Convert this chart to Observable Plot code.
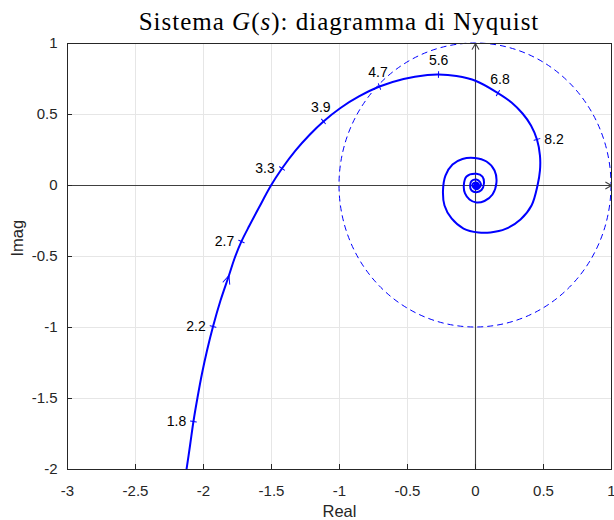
<!DOCTYPE html>
<html><head><meta charset="utf-8">
<script src="https://cdn.jsdelivr.net/npm/d3@7"></script>
<script src="https://cdn.jsdelivr.net/npm/@observablehq/plot@0.6"></script>
<style>
body{margin:0;background:#fff;}
#title{width:614px;box-sizing:border-box;padding:4px 3px 0 67px;height:40px;text-align:center;font-family:"Liberation Serif","Times New Roman",serif;font-size:25px;letter-spacing:1px;line-height:36px;color:#000;white-space:nowrap;}
</style></head><body>
<div id="title">Sistema <i>G</i>(<i>s</i>): diagramma di Nyquist</div>
<div id="chart"></div>
<script>
// Axis ticks
const xTicks = [-3, -2.5, -2, -1.5, -1, -0.5, 0, 0.5, 1];
const xTickLabels = ["-3", "-2.5", "-2", "-1.5", "-1", "-0.5", "0", "0.5", "1"];
const yTicks = [-2, -1.5, -1, -0.5, 0, 0.5, 1];
const yTickLabels = ["-2", "-1.5", "-1", "-0.5", "0", "0.5", "1"];
const xDomain = [-3, 1];
const yDomain = [-2, 1];

// Nyquist curve, in order of increasing frequency
const curveRe = [-2.125, -2.099, -2.074, -2.044, -2.011, -1.974, -1.930, -1.875, -1.813, -1.772, -1.721, -1.662, -1.592, -1.504, -1.423, -1.324, -1.221, -1.118, -0.993, -0.857, -0.706, -0.529, -0.353, -0.272, -0.140, 0.004, 0.165, 0.265, 0.346, 0.408, 0.452, 0.474, 0.474, 0.456, 0.412, 0.331, 0.221, 0.110, 0.022, -0.088, -0.176, -0.228, -0.239, -0.221, -0.169, -0.096, -0.007, 0.081, 0.140, 0.154, 0.125, 0.066, 0.007, -0.044, -0.077, -0.086, -0.066, 0.007, 0.051, 0.062, 0.044, 0.007, -0.029, -0.040, -0.029, 0.007, 0.033, 0.039, 0.010, -0.018, -0.018, 0.007, 0.024, 0.018, 0.000, -0.007, 0.004, 0.011, 0.004];
const curveIm = [-2.0, -1.831, -1.662, -1.493, -1.324, -1.162, -0.993, -0.810, -0.634, -0.514, -0.394, -0.282, -0.155, 0, 0.120, 0.246, 0.356, 0.451, 0.546, 0.627, 0.697, 0.750, 0.778, 0.782, 0.771, 0.736, 0.651, 0.585, 0.507, 0.423, 0.324, 0.211, 0.106, 0, -0.141, -0.239, -0.306, -0.331, -0.331, -0.303, -0.232, -0.141, -0.035, 0.070, 0.148, 0.187, 0.194, 0.169, 0.106, 0.021, -0.063, -0.109, -0.120, -0.099, -0.056, 0, 0.063, 0.082, 0.063, 0.014, -0.032, -0.047, -0.035, 0, 0.032, 0.042, 0.025, 0, -0.026, -0.011, 0.014, 0.021, 0.007, -0.011, -0.011, 0.002, 0.009, 0, -0.004];

// Frequency markers
const freqLabels = ["1.8", "2.2", "2.7", "3.3", "3.9", "4.7", "5.6", "6.8", "8.2"];
const freqRe = [-2.074, -1.930, -1.721, -1.423, -1.118, -0.706, -0.272, 0.165, 0.452];
const freqIm = [-1.662, -0.993, -0.394, 0.120, 0.451, 0.697, 0.782, 0.651, 0.324];

// Direction arrow on the curve
const arrowRe = [-1.813];
const arrowIm = [-0.634];

// Unit circle radius
const circleRadius = [1];

const W = 614, H = 480, mL = 67, mR = 3, mT = 3, mB = 51;
const kx = (W - mL - mR) / (xDomain[1] - xDomain[0]);
const ky = (H - mT - mB) / (yDomain[1] - yDomain[0]);

const curve = curveRe.map((re, i) => ({re, im: curveIm[i]}));

function nearestIndex(re, im) {
  let best = 0, bd = Infinity;
  curve.forEach((p, i) => { const d = (p.re - re) ** 2 + (p.im - im) ** 2; if (d < bd) { bd = d; best = i; } });
  return best;
}
function tangentAngle(re, im) {
  const k = nearestIndex(re, im);
  const a = curve[Math.max(0, k - 1)], b = curve[Math.min(curve.length - 1, k + 1)];
  const sx = (b.re - a.re) * kx, sy = -(b.im - a.im) * ky;
  return Math.atan2(sx, -sy) * 180 / Math.PI; // clockwise from up
}

const marks = freqLabels.map((label, i) => {
  const re = freqRe[i], im = freqIm[i];
  const t = tangentAngle(re, im);
  let phi = t + 90;
  let nx = Math.sin(phi * Math.PI / 180), ny = -Math.cos(phi * Math.PI / 180);
  const ox = re * kx, oy = -im * ky;
  if (nx * ox + ny * oy < 0) { nx = -nx; ny = -ny; phi += 180; }
  // place label on the dominant outward side
  const horiz = Math.abs(nx) > Math.abs(ny);
  const dx = horiz ? Math.sign(nx) * 17 : nx * 4;
  const dy = horiz ? 0 : Math.sign(ny) * 14;
  return {label, re, im, rot: phi, dx, dy};
});

const arrows = arrowRe.map((re, i) => ({re, im: arrowIm[i], rot: tangentAngle(re, arrowIm[i])}));

const tickShape = {draw(ctx, l) { ctx.moveTo(0, 0); ctx.lineTo(0, -l); }};
const vShape = {draw(ctx, l) { ctx.moveTo(-3.5, l); ctx.lineTo(0, 0); ctx.lineTo(3.5, l); }};

const axesLines = [
  {x1: xDomain[0], y1: 0, x2: xDomain[1], y2: 0},
  {x1: 0, y1: yDomain[0], x2: 0, y2: yDomain[1]}
];

function unitCircle(index, scales) {
  const {x, y} = scales;
  const r = circleRadius[0];
  return d3.create("svg:ellipse")
    .attr("cx", x(0)).attr("cy", y(0))
    .attr("rx", x(r) - x(0)).attr("ry", y(0) - y(r))
    .attr("fill", "none").attr("stroke", "#0000ff").attr("stroke-width", 1)
    .attr("stroke-dasharray", "6,4").node();
}

const chart = Plot.plot({
  width: W, height: H,
  marginLeft: mL, marginRight: mR, marginTop: mT, marginBottom: mB,
  x: {domain: xDomain, axis: null},
  y: {domain: yDomain, axis: null},
  style: {fontFamily: "'Liberation Sans', Arial, sans-serif", fontSize: "15px", color: "#262626", background: "white", overflow: "visible"},
  marks: [
    Plot.gridX(xTicks, {stroke: "#e6e6e6", strokeOpacity: 1}),
    Plot.gridY(yTicks, {stroke: "#e6e6e6", strokeOpacity: 1}),
    unitCircle,
    Plot.arrow(axesLines, {x1: "x1", y1: "y1", x2: "x2", y2: "y2", stroke: "#404040", strokeWidth: 1.1, headLength: 9, headAngle: 60}),
    Plot.line(curve, {x: "re", y: "im", curve: "catmull-rom", stroke: "#0000ff", strokeWidth: 2, clip: true}),
    Plot.vector(marks, {x: "re", y: "im", rotate: "rot", length: 6, anchor: "middle", shape: tickShape, stroke: "#0000ff", strokeWidth: 1}),
    Plot.vector(arrows, {x: "re", y: "im", rotate: "rot", length: 8, anchor: "start", shape: vShape, stroke: "#0000ff", strokeWidth: 1}),
    ...marks.map(m => Plot.text([m], {x: "re", y: "im", text: "label", dx: m.dx, dy: m.dy, fontSize: 14, fill: "#000"})),
    Plot.frame({stroke: "#262626", strokeWidth: 1}),
    Plot.axisX({ticks: xTicks, tickSize: -5, fill: "none", label: null, stroke: "#262626"}),
    Plot.axisY({ticks: yTicks, tickSize: -5, fill: "none", label: null, stroke: "#262626"}),
    Plot.axisX({ticks: xTicks, tickSize: 0, tickPadding: 16, tickFormat: d => xTickLabels[xTicks.indexOf(d)], label: null, fontSize: 15, fill: "#262626"}),
    Plot.axisY({ticks: yTicks, tickSize: 0, tickPadding: 10, tickFormat: d => yTickLabels[yTicks.indexOf(d)], label: null, fontSize: 15, fill: "#262626"}),
    Plot.text(["Real"], {frameAnchor: "bottom", dy: 47, fontSize: 16.5, fill: "#262626"}),
    Plot.text(["Imag"], {frameAnchor: "left", dx: -50, rotate: -90, fontSize: 16.5, fill: "#262626"})
  ]
});
document.getElementById("chart").appendChild(chart);
</script></body></html>
